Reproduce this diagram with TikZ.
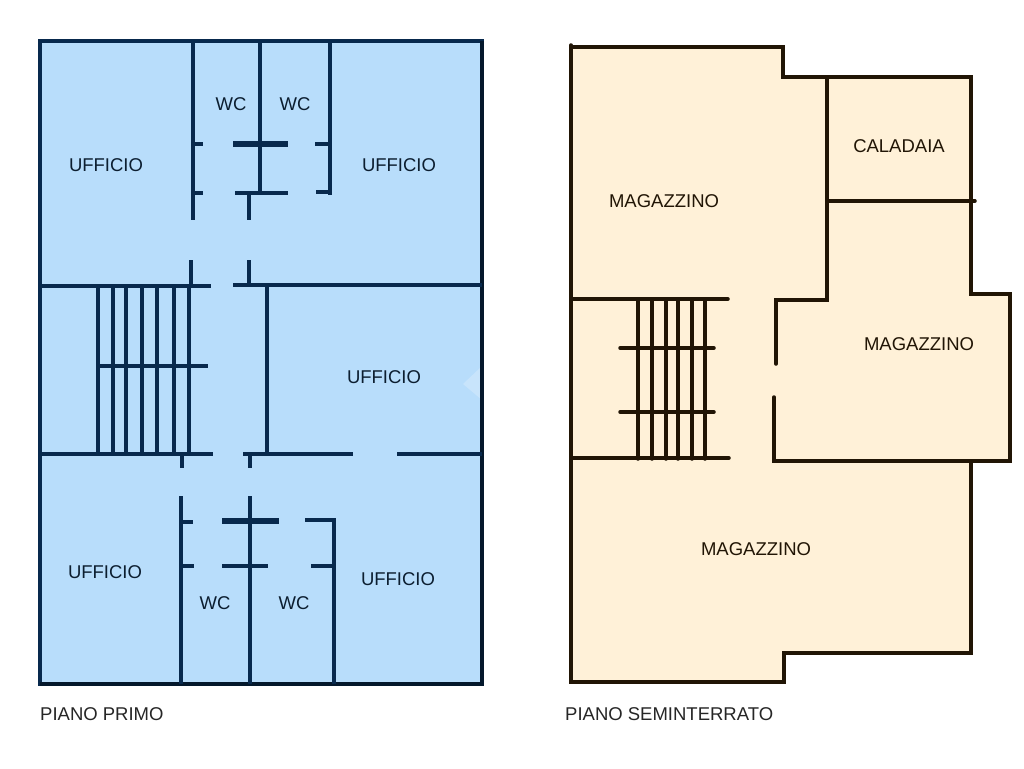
\documentclass[tikz,border=0pt]{standalone}
\usepackage{fontspec}
\setmainfont{Liberation Sans}
\definecolor{planblue}{HTML}{B8DDFB}
\definecolor{wallblue}{HTML}{08294D}
\definecolor{edgeblue}{HTML}{04182C}
\definecolor{textblue}{HTML}{0C1E30}
\definecolor{markblue}{HTML}{C8E4FB}
\definecolor{planbeige}{HTML}{FFF1D8}
\definecolor{wallbrown}{HTML}{211505}
\tikzset{
  bluewall/.style={draw=wallblue,line width=4pt},
  brownwall/.style={draw=wallbrown,line width=3.5pt,line cap=round},
  roomlabel/.style={inner sep=0pt,font=\fontsize{18.5}{20}\selectfont},
  bluelabel/.style={roomlabel,text=textblue},
  brownlabel/.style={roomlabel,text=wallbrown}
}
\begin{document}
\begin{tikzpicture}[x=1pt,y=-1pt]
\useasboundingbox (0,0) rectangle (1024,768);
\fill[white] (0,0) rectangle (1024,768);

\fill[planblue] (40,41) rectangle (482,684);
\fill[markblue] (463,384) -- (482,366) -- (482,400) -- cycle;
\draw[bluewall,line width=4.5pt] (40,41) rectangle (482,684);
\draw[draw=edgeblue,line width=4.5pt] (482,41) -- (482,684) -- (40,684);
\foreach \x/\a/\b in {193/41/220,260/41/193,330/41/195,249/193/220,191/260/286,249/260/286,
    267/285/454,182/454/468,250/454/468,181/496/684,250/496/684,334/520/684} {
    \draw[bluewall] (\x,\a) -- (\x,\b);
}
\foreach \y/\a/\b in {144/193/203,193/193/203,144/315/330,192/316/330,
    286/40/211,285/233/482,366/98/208,454/40/213,454/243/353,454/397/482,
    522/181/193,566/181/194,566/222/268,566/311/334,520/305/336} {
    \draw[bluewall] (\a,\y) -- (\b,\y);
}
\draw[bluewall,line width=5.5pt] (233,144) -- (288,144);
\draw[bluewall] (235,193) -- (288,193);
\draw[bluewall,line width=5.5pt] (222,521) -- (279,521);
\foreach \x in {98,113,126,142,157,174,189} {
    \draw[bluewall] (\x,286) -- (\x,455);
}
\node[bluelabel] (ufficioA) at (106,165) {UFFICIO};
\node[bluelabel] (ufficioB) at (399,165) {UFFICIO};
\node[bluelabel] (ufficioC) at (384,377) {UFFICIO};
\node[bluelabel] (ufficioD) at (105,572) {UFFICIO};
\node[bluelabel] (ufficioE) at (398,579) {UFFICIO};
\node[bluelabel] (wcA) at (231,104) {WC};
\node[bluelabel] (wcB) at (295,104) {WC};
\node[bluelabel] (wcC) at (215,603) {WC};
\node[bluelabel] (wcD) at (294,603) {WC};
\node[roomlabel,anchor=west,text=black!85] (primo) at (40,714) {PIANO PRIMO};

\fill[planbeige] (571,47) -- (783,47) -- (783,77) -- (971,77) -- (971,294) -- (1010,294)
    -- (1010,461) -- (971,461) -- (971,653) -- (784,653) -- (784,682) -- (571,682) -- cycle;
\draw[brownwall] (571,45) -- (571,682) -- (784,682) -- (784,653) -- (971,653) -- (971,461)
    -- (1010,461) -- (1010,294) -- (971,294) -- (971,77) -- (783,77) -- (783,47) -- (571,47);
\draw[brownwall] (827,77) -- (827,300) -- (776,300) -- (776,364);
\draw[brownwall] (827,201) -- (975,201);
\draw[brownwall] (571,299) -- (728,299);
\draw[brownwall] (571,458) -- (729,458);
\draw[brownwall] (774,397) -- (774,461) -- (971,461);
\foreach \y in {348,412} {
    \draw[brownwall] (620,\y) -- (714,\y);
}
\foreach \x in {638,652,666,678,692,705} {
    \draw[brownwall] (\x,299) -- (\x,459);
}
\node[brownlabel] (magazzinoA) at (664,201) {MAGAZZINO};
\node[brownlabel] (magazzinoB) at (919,344) {MAGAZZINO};
\node[brownlabel] (magazzinoC) at (756,549) {MAGAZZINO};
\node[brownlabel] (caladaia) at (899,146) {CALADAIA};
\node[roomlabel,anchor=west,text=black!85] (seminterrato) at (565,714) {PIANO SEMINTERRATO};
\end{tikzpicture}
\end{document}
